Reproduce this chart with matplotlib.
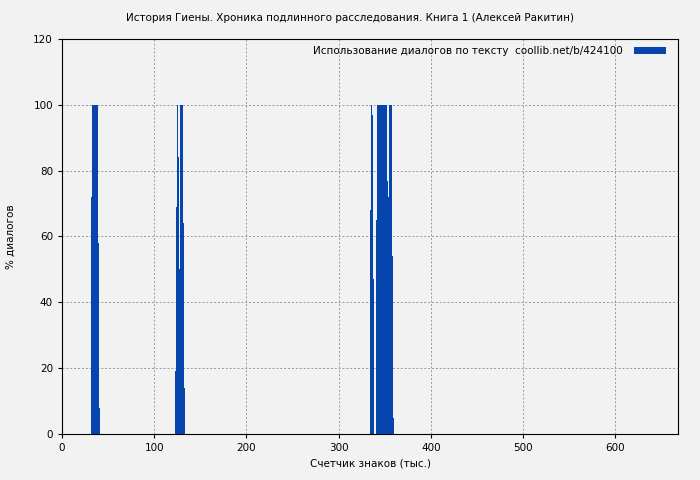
import numpy as np
import matplotlib.pyplot as plt

# data: position (thousands of chars) -> % dialogues
x1 = [31, 32, 33, 34, 35, 36, 37, 38, 39, 40]
y1 = [72, 100, 100, 100, 100, 100, 100, 100, 58, 8]

x2 = [123, 124, 125, 126, 127, 128, 129, 130, 131, 132]
y2 = [19, 69, 100, 84, 50, 100, 100, 100, 64, 14]

x3 = list(range(334, 360))
y3 = [68, 100, 97, 47, 0, 0, 15, 65,
      100, 100, 100, 100, 100, 100, 100, 100, 100, 100,
      77, 27, 72, 100, 100, 100, 54, 5]

title = "История Гиены. Хроника подлинного расследования. Книга 1 (Алексей Ракитин)"
legend_label = "Использование диалогов по тексту  coollib.net/b/424100"

xs = x1 + x2 + x3
ys = y1 + y2 + y3

bg = "#f2f2f2"
blue = "#0645ad"

plt.rcParams["font.family"] = ["DejaVu Sans"]
plt.rcParams["font.size"] = 7.5

fig = plt.figure(figsize=(7, 4.8), dpi=100, facecolor=bg)
ax = fig.add_axes([0.0886, 0.0958, 0.88, 0.823])
ax.set_facecolor(bg)

ax.bar(xs, ys, width=1.0, align="edge", color=blue, linewidth=0, label=legend_label)

ax.set_xlim(0, 668)
ax.set_ylim(0, 120)
ax.set_xticks([0, 100, 200, 300, 400, 500, 600])
ax.set_yticks([0, 20, 40, 60, 80, 100, 120])
ax.grid(True, color="#999999", linestyle=(0, (2, 2)), linewidth=0.7)
ax.set_axisbelow(True)
ax.tick_params(direction="out", length=3, width=0.8)
for s in ax.spines.values():
    s.set_color("black")
    s.set_linewidth(0.8)

ax.set_xlabel("Счетчик знаков (тыс.)", labelpad=4)
ax.set_ylabel("% диалогов", labelpad=13)
fig.text(0.5, 0.962, title, ha="center", va="center", fontsize=7.5)

ax.legend(loc="upper right", bbox_to_anchor=(0.992, 1.0), frameon=False,
          markerfirst=False, handlelength=3.1, handleheight=0.55,
          handletextpad=1.0, borderaxespad=0.3, fontsize=7.5)

fig.savefig("out.png", dpi=100, facecolor=bg)
